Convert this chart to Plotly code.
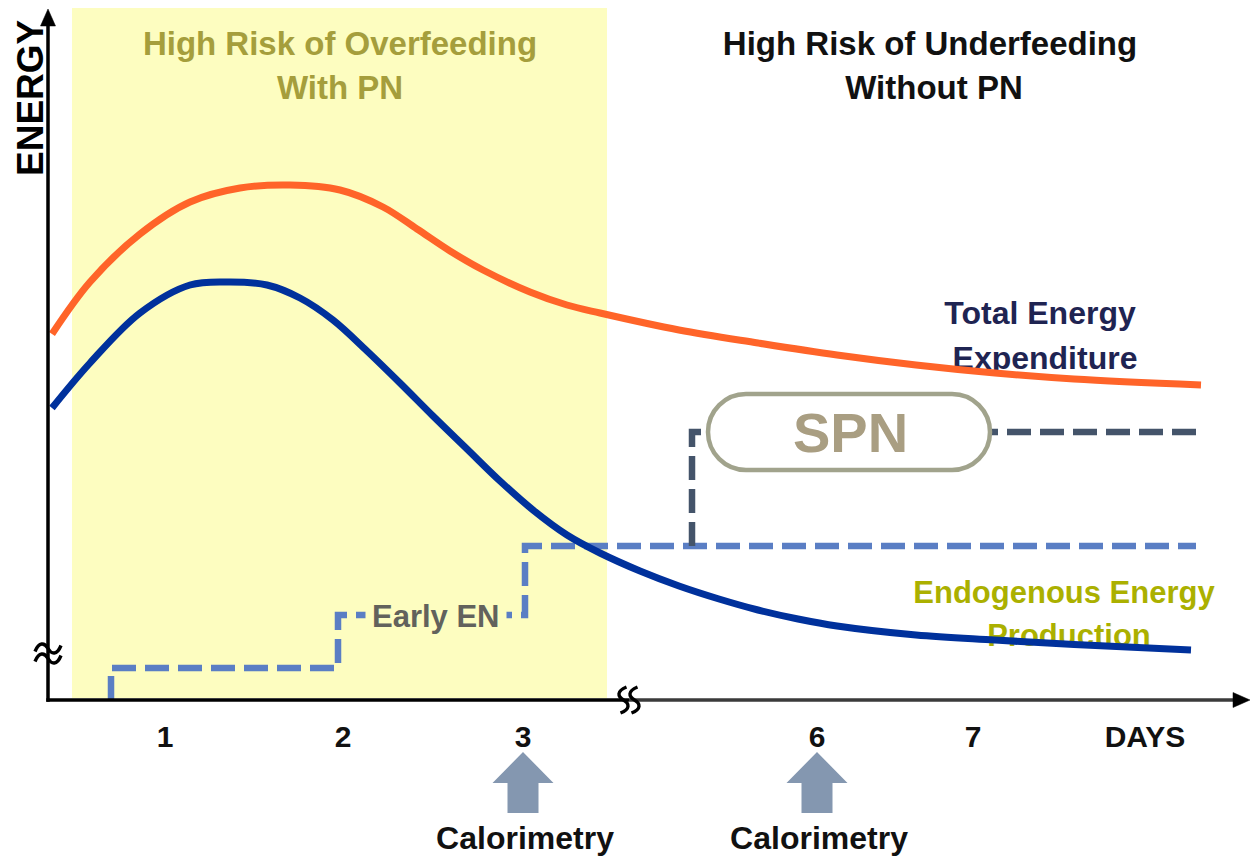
import plotly.graph_objects as go

# ---- canvas / scale --------------------------------------------------------
# Horizontal axis: timeline position; vertical axis: energy (arbitrary units).
X_RANGE = [0.0, 12.51]
Y_RANGE = [-1.58, 7.00]

FONT = "Liberation Sans, Arial, sans-serif"

# ---- data -----------------------------------------------------------------
# Total energy expenditure curve
TEE_X = [0.52, 0.90, 1.40, 1.90, 2.40, 2.90, 3.40, 3.83, 4.17, 4.50, 4.83,
         5.30, 5.67, 6.00, 6.79, 7.58, 8.37, 9.16, 9.95, 10.74, 12.01]
TEE_Y = [3.66, 4.18, 4.66, 4.98, 5.12, 5.15, 5.10, 4.93, 4.71, 4.49, 4.30,
         4.08, 3.95, 3.87, 3.70, 3.57, 3.45, 3.35, 3.27, 3.21, 3.15]

# Endogenous energy production curve
EEP_X = [0.52, 0.90, 1.40, 1.90, 2.30, 2.67, 3.00, 3.33, 3.67, 4.00, 4.33,
         4.67, 5.00, 5.33, 5.67, 6.00, 6.40, 6.79, 7.19, 7.58, 7.98, 8.37,
         9.16, 9.95, 10.74, 11.91]
EEP_Y = [2.92, 3.37, 3.87, 4.15, 4.18, 4.15, 4.02, 3.80, 3.49, 3.17, 2.84,
         2.51, 2.19, 1.90, 1.65, 1.47, 1.29, 1.14, 1.01, 0.90, 0.81, 0.74,
         0.65, 0.60, 0.555, 0.50]

# Early enteral nutrition, stepped up (hv steps)
EN_X = [1.11, 1.11, 3.38, 5.25, 11.96]
EN_Y = [0.00, 0.32, 0.85, 1.54, 1.54]

# Supplemental parenteral nutrition added on top
SPN_X = [6.92, 6.92, 11.96]
SPN_Y = [1.54, 2.68, 2.68]

# Day axis
DAY_LABELS = ["1", "2", "3", "6", "7", "DAYS"]
DAY_POS = [1.65, 3.43, 5.23, 8.17, 9.73, 11.45]
CALORIMETRY_DAYS = ["3", "6"]

# Overfeeding-risk window
RISK_X = [0.72, 6.07]
RISK_Y = [0.02, 6.92]

# ---- axis furniture --------------------------------------------------------
AX_X0 = 0.48      # vertical axis position
AX_Y0 = 0.0       # horizontal axis level
AX_YTOP = 6.91
AX_XEND = 12.50
Y_BREAK = 0.465
X_BREAK = 6.29

fig = go.Figure()

# curve labels (drawn first so the curves pass over them)
def text_trace(x, y, txt, size, color, weight="bold"):
    return go.Scatter(
        x=[x], y=[y], mode="text", text=[txt], textposition="middle center",
        textfont=dict(family=FONT, size=size, color=color, weight=weight),
        hoverinfo="skip", showlegend=False)

fig.add_trace(text_trace(10.40, 3.845, "Total Energy", 32, "#1f2452"))
fig.add_trace(text_trace(10.45, 3.395, "Expenditure", 32, "#1f2452"))
fig.add_trace(text_trace(10.64, 1.045, "Endogenous Energy", 31, "#abb000"))
fig.add_trace(text_trace(10.69, 0.615, "Production", 31, "#abb000"))

fig.add_trace(text_trace(3.40, 6.53, "High Risk of Overfeeding", 33, "#a59e3c"))
fig.add_trace(text_trace(3.40, 6.09, "With PN", 33, "#a59e3c"))
fig.add_trace(text_trace(9.30, 6.53, "High Risk of Underfeeding", 33, "#111111"))
fig.add_trace(text_trace(9.34, 6.09, "Without PN", 33, "#111111"))

# day tick labels
fig.add_trace(go.Scatter(
    x=DAY_POS, y=[-0.39] * len(DAY_POS), mode="text", text=DAY_LABELS,
    textposition="middle center",
    textfont=dict(family=FONT, size=30, color="#111111", weight="bold"),
    hoverinfo="skip", showlegend=False))

# calorimetry markers under selected days
cal_pos = [DAY_POS[DAY_LABELS.index(d)] for d in CALORIMETRY_DAYS]
fig.add_trace(go.Scatter(
    x=[p + 0.02 for p in cal_pos], y=[-1.41] * len(cal_pos), mode="text",
    text=["Calorimetry"] * len(cal_pos), textposition="middle center",
    textfont=dict(family=FONT, size=32, color="#111111", weight="bold"),
    hoverinfo="skip", showlegend=False))

# nutrition steps
fig.add_trace(go.Scatter(
    x=EN_X, y=EN_Y, mode="lines", line=dict(color="#5a7ec4", width=6.5,
                                            dash="24px,9px", shape="hv"),
    hoverinfo="skip", showlegend=False))
fig.add_trace(go.Scatter(
    x=SPN_X, y=SPN_Y, mode="lines", line=dict(color="#44546a", width=6.5,
                                              dash="24px,9px", shape="hv"),
    hoverinfo="skip", showlegend=False))

# energy curves
fig.add_trace(go.Scatter(
    x=TEE_X, y=TEE_Y, mode="lines",
    line=dict(color="#ff6429", width=7, shape="spline", smoothing=1.0),
    hoverinfo="skip", showlegend=False))
fig.add_trace(go.Scatter(
    x=EEP_X, y=EEP_Y, mode="lines",
    line=dict(color="#00319c", width=7, shape="spline", smoothing=1.0),
    hoverinfo="skip", showlegend=False))

shapes = []
# shaded risk window
shapes.append(dict(type="rect", xref="x", yref="y", layer="below",
                   x0=RISK_X[0], x1=RISK_X[1], y0=RISK_Y[0], y1=RISK_Y[1],
                   fillcolor="#fdfdc0", line=dict(width=0)))

# axes
shapes.append(dict(type="line", xref="x", yref="y", layer="above",
                   x0=AX_X0, x1=AX_X0, y0=AX_Y0 - 0.017, y1=AX_YTOP - 0.12,
                   line=dict(color="#000000", width=3.5)))
shapes.append(dict(type="line", xref="x", yref="y", layer="above",
                   x0=AX_X0 - 0.017, x1=X_BREAK, y0=AX_Y0, y1=AX_Y0,
                   line=dict(color="#000000", width=3.5)))
shapes.append(dict(type="line", xref="x", yref="y", layer="above",
                   x0=X_BREAK, x1=AX_XEND - 0.12, y0=AX_Y0, y1=AX_Y0,
                   line=dict(color="#3a3a3a", width=3.5)))
# arrowheads
shapes.append(dict(type="path", xref="x", yref="y", layer="above",
                   path=f"M {AX_X0},{AX_YTOP} L {AX_X0 - 0.075},{AX_YTOP - 0.17} "
                        f"L {AX_X0 + 0.075},{AX_YTOP - 0.17} Z",
                   fillcolor="#000000", line=dict(color="#000000", width=0.5)))
shapes.append(dict(type="path", xref="x", yref="y", layer="above",
                   path=f"M {AX_XEND},{AX_Y0} L {AX_XEND - 0.17},{AX_Y0 + 0.075} "
                        f"L {AX_XEND - 0.17},{AX_Y0 - 0.075} Z",
                   fillcolor="#000000", line=dict(color="#000000", width=0.5)))

# axis break marks
for dy in (0.05, -0.05):
    y = Y_BREAK + dy
    x = AX_X0
    shapes.append(dict(
        type="path", xref="x", yref="y", layer="above",
        path=(f"M {x - 0.13},{y - 0.03} C {x - 0.09},{y + 0.07} {x - 0.035},{y + 0.06} {x},{y} "
              f"C {x + 0.035},{y - 0.06} {x + 0.09},{y - 0.07} {x + 0.13},{y + 0.03}"),
        line=dict(color="#000000", width=3.4)))
for dx in (-0.055, 0.055):
    x = X_BREAK + dx
    y = AX_Y0
    shapes.append(dict(
        type="path", xref="x", yref="y", layer="above",
        path=(f"M {x + 0.03},{y + 0.13} C {x - 0.07},{y + 0.09} {x - 0.06},{y + 0.035} {x},{y} "
              f"C {x + 0.06},{y - 0.035} {x + 0.07},{y - 0.09} {x - 0.03},{y - 0.13}"),
        line=dict(color="#000000", width=3.4)))

# calorimetry block arrows
for p in cal_pos:
    tip, base, bottom = -0.52, -0.83, -1.13
    hw, sw = 0.305, 0.155
    shapes.append(dict(
        type="path", xref="x", yref="y", layer="above",
        path=(f"M {p},{tip} L {p + hw},{base} L {p + sw},{base} L {p + sw},{bottom} "
              f"L {p - sw},{bottom} L {p - sw},{base} L {p - hw},{base} Z"),
        fillcolor="#8497b0", line=dict(width=0)))

# SPN pill
cx, cy, hw, hh = 8.49, 2.68, 1.41, 0.38
r = hh
k = 0.5523 * r
L, R = cx - hw, cx + hw
pill = (f"M {L + r},{cy + r} L {R - r},{cy + r} "
        f"C {R - r + k},{cy + r} {R},{cy + k} {R},{cy} "
        f"C {R},{cy - k} {R - r + k},{cy - r} {R - r},{cy - r} "
        f"L {L + r},{cy - r} "
        f"C {L + r - k},{cy - r} {L},{cy - k} {L},{cy} "
        f"C {L},{cy + k} {L + r - k},{cy + r} {L + r},{cy + r} Z")
shapes.append(dict(type="path", xref="x", yref="y", layer="above", path=pill,
                   fillcolor="#ffffff", line=dict(color="#a1a38c", width=4.5)))

annotations = [
    dict(x=0.30, y=6.02, xref="x", yref="y", text="ENERGY", textangle=-90,
         showarrow=False, font=dict(family=FONT, size=37, color="#000000",
                                    weight="bold")),
    dict(x=4.36, y=0.84, xref="x", yref="y", text="Early EN", showarrow=False,
         bgcolor="#fdfdc0", borderpad=6,
         font=dict(family=FONT, size=31, color="#62625c", weight="bold")),
    dict(x=8.50, y=2.68, xref="x", yref="y", text="SPN", showarrow=False,
         font=dict(family=FONT, size=56, color="#a99e82", weight="bold")),
]

fig.update_layout(
    width=1251, height=858,
    margin=dict(l=0, r=0, t=0, b=0, pad=0),
    paper_bgcolor="#ffffff", plot_bgcolor="#ffffff",
    xaxis=dict(range=X_RANGE, visible=False, fixedrange=True),
    yaxis=dict(range=Y_RANGE, visible=False, fixedrange=True),
    shapes=shapes, annotations=annotations, showlegend=False,
)

fig.write_html("out.html", config={"displayModeBar": False})
